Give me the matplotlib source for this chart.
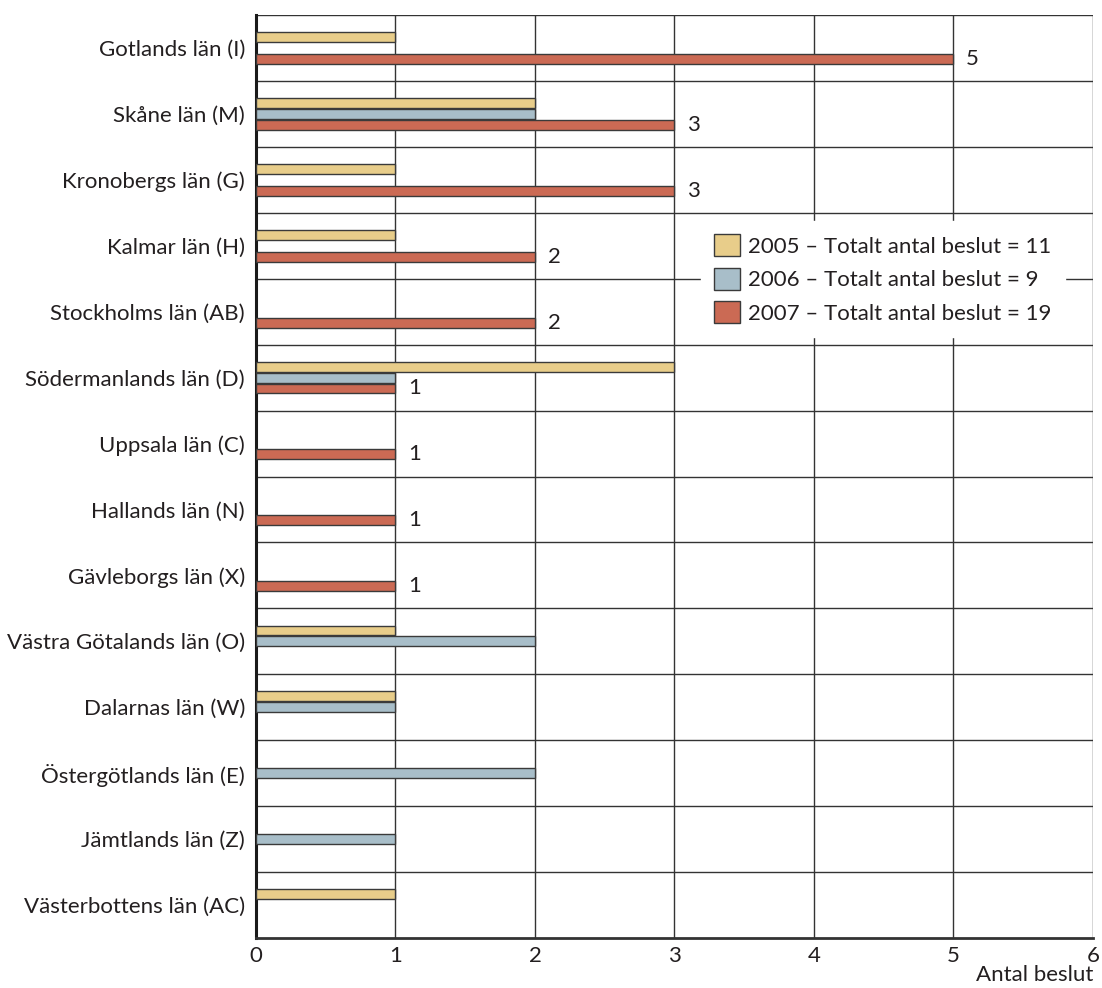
import matplotlib.pyplot as plt
import numpy as np
from matplotlib.patches import Patch

plt.rcParams['font.family'] = ['Lato', 'DejaVu Sans']

# data, top to bottom
lan = ['Gotlands län (I)', 'Skåne län (M)', 'Kronobergs län (G)', 'Kalmar län (H)',
       'Stockholms län (AB)', 'Södermanlands län (D)', 'Uppsala län (C)',
       'Hallands län (N)', 'Gävleborgs län (X)', 'Västra Götalands län (O)',
       'Dalarnas län (W)', 'Östergötlands län (E)', 'Jämtlands län (Z)',
       'Västerbottens län (AC)']
v2005 = [1, 2, 1, 1, 0, 3, 0, 0, 0, 1, 1, 0, 0, 1]
v2006 = [0, 2, 0, 0, 0, 1, 0, 0, 0, 2, 1, 2, 1, 0]
v2007 = [5, 3, 3, 2, 2, 1, 1, 1, 1, 0, 0, 0, 0, 0]
legend_labels = ['2005 – Totalt antal beslut = 11',
                 '2006 – Totalt antal beslut = 9',
                 '2007 – Totalt antal beslut = 19']

colors = ['#e8cd8a', '#a8bec9', '#cb6a54']
edge = '#3a3a3a'
txt = '#231f20'
fs = 16

fig = plt.figure(figsize=(11.02, 9.88), dpi=100)
ax = fig.add_axes([0.2323, 0.0506, 0.7595, 0.9342])

n = len(lan)
y = np.arange(n)
h = 0.15
offs = [-0.165, 0.0, 0.165]

for series, c, off in zip([v2005, v2006, v2007], colors, offs):
    for yi, v in zip(y, series):
        if v > 0:
            ax.barh(yi + off, v, height=h, color=c, edgecolor=edge, linewidth=1.0, zorder=3)

# value labels for 2007
for yi, v in zip(y, v2007):
    if v > 0:
        ax.text(v + 0.09, yi + offs[2], str(v), va='center', ha='left',
                fontsize=fs, color=txt, zorder=4)

ax.set_xlim(0, 6)
ax.set_ylim(n - 0.5, -0.5)
ax.set_yticks(y)
ax.set_yticklabels(lan, fontsize=fs, color=txt)
ax.set_xticks(range(7))
ax.set_xticklabels([str(i) for i in range(7)], fontsize=fs, color=txt)
ax.tick_params(length=0)
ax.tick_params(axis='x', pad=6)
ax.tick_params(axis='y', pad=8)

for k in range(1, 7):
    ax.axvline(k, color='#333333', linewidth=1.0, zorder=1)
for b in np.arange(-0.5, n - 0.5, 1):
    ax.axhline(b, color='#333333', linewidth=1.0, zorder=1)

for s in ['top', 'right']:
    ax.spines[s].set_visible(False)
ax.spines['left'].set_linewidth(2.2)
ax.spines['left'].set_color('#1a1a1a')
ax.spines['bottom'].set_linewidth(2.0)
ax.spines['bottom'].set_color('#333333')

handles = [Patch(facecolor=c, edgecolor=edge, linewidth=1.0) for c in colors]
leg = ax.legend(handles, legend_labels, loc='center', bbox_to_anchor=(0.749, 0.714),
                fontsize=fs, frameon=True, fancybox=False, framealpha=1,
                facecolor='white', edgecolor='white', handlelength=1.15,
                handleheight=1.15, labelspacing=0.5, handletextpad=0.4,
                borderpad=0.6, borderaxespad=0)
leg.set_zorder(5)
for t in leg.get_texts():
    t.set_color(txt)

fig.text(0.9918, 0.013, 'Antal beslut', ha='right', va='center', fontsize=fs, color=txt)

fig.savefig('out.png', dpi=100)
